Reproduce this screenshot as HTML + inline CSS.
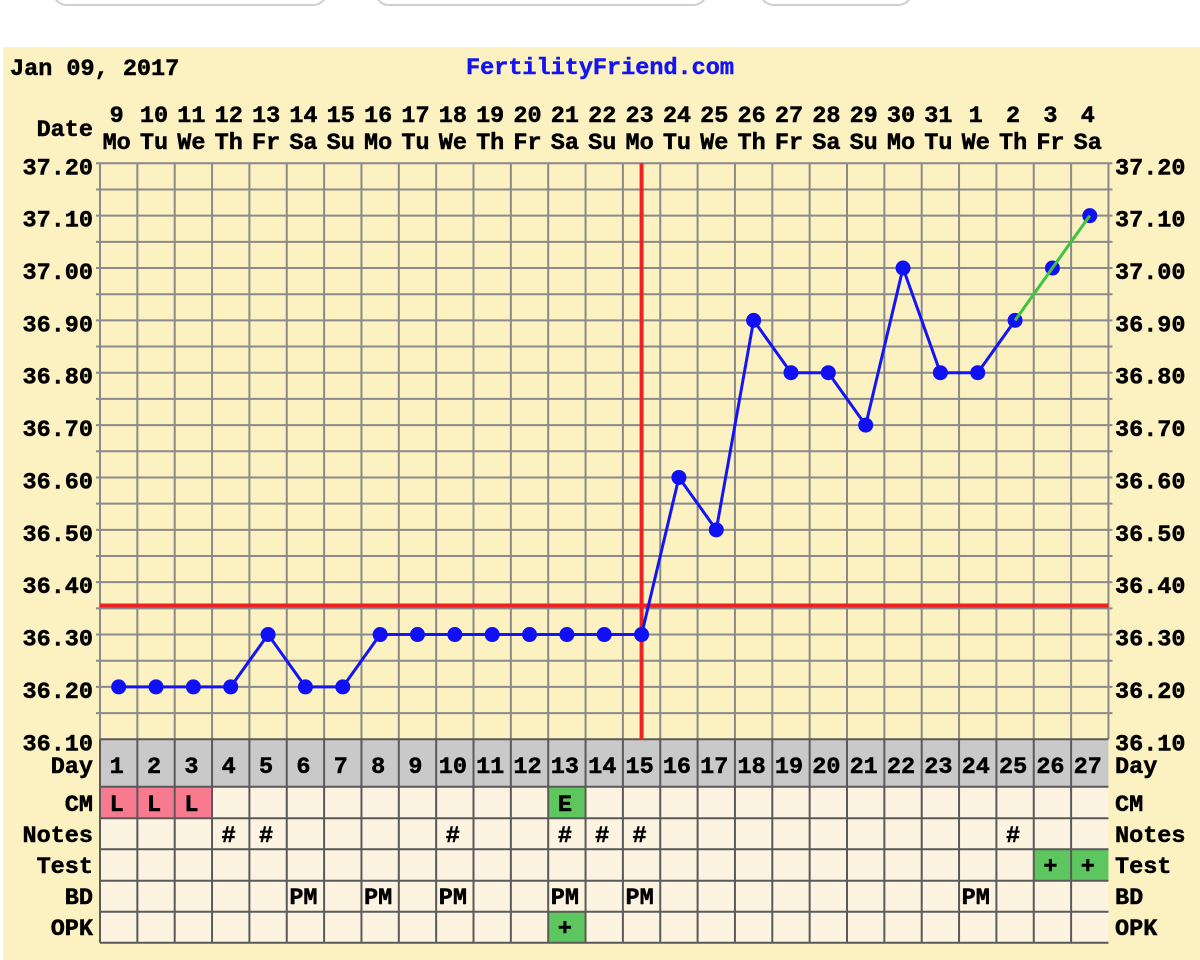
<!DOCTYPE html>
<html><head><meta charset="utf-8"><style>
html,body{margin:0;padding:0;background:#fff;}
svg{display:block;}
text{font-family:"Liberation Mono",monospace;font-weight:bold;font-size:23.5px;fill:#000;stroke:#000;stroke-width:0.5px;}
</style></head><body>
<svg width="1200" height="960" viewBox="0 0 1200 960" xmlns="http://www.w3.org/2000/svg">
<rect x="0" y="0" width="1200" height="960" fill="#fff"/>
<rect x="53" y="-40" width="274" height="45" rx="14" fill="#fff" stroke="#cfcfcf" stroke-width="2"/>
<rect x="375" y="-40" width="332" height="45" rx="14" fill="#fff" stroke="#cfcfcf" stroke-width="2"/>
<rect x="760" y="-40" width="152" height="45" rx="14" fill="#fff" stroke="#cfcfcf" stroke-width="2"/>
<rect x="3" y="47" width="1197" height="913" fill="#FCF1C0"/>

<text x="10" y="75">Jan 09, 2017</text>
<text x="600" y="74" text-anchor="middle" style="fill:#1414F0;stroke:#1414F0">FertilityFriend.com</text>

<!-- table backgrounds -->
<rect x="100" y="739.26" width="1008.45" height="47.44" fill="#C9C9C9"/>
<rect x="100" y="786.7" width="1008.45" height="156" fill="#FDF3E1"/>
<rect x="100" y="786.7" width="112.05" height="31.6" fill="#F77A8E"/>
<rect x="548.2" y="786.7" width="37.35" height="31.6" fill="#5EC65E"/>
<rect x="1033.75" y="849.3" width="74.7" height="31.4" fill="#5EC65E"/>
<rect x="548.2" y="911.7" width="37.35" height="31" fill="#5EC65E"/>

<!-- grid -->
<path fill="none" stroke="#8a8a8a" stroke-width="2" d="M100,163.3 v576 m37.35,-576 v576 m37.35,-576 v576 m37.35,-576 v576 m37.35,-576 v576 m37.35,-576 v576 m37.35,-576 v576 m37.35,-576 v576 m37.35,-576 v576 m37.35,-576 v576 m37.35,-576 v576 m37.35,-576 v576 m37.35,-576 v576 m37.35,-576 v576 m37.35,-576 v576 m37.35,-576 v576 m37.35,-576 v576 m37.35,-576 v576 m37.35,-576 v576 m37.35,-576 v576 m37.35,-576 v576 m37.35,-576 v576 m37.35,-576 v576 m37.35,-576 v576 m37.35,-576 v576 m37.35,-576 v576 m37.35,-576 v576 m37.35,-576 v576"/>
<path fill="none" stroke="#8a8a8a" stroke-width="2" d="M96,163.3 h1016.45 m-1016.45,26.18 h1016.45 m-1016.45,26.18 h1016.45 m-1016.45,26.18 h1016.45 m-1016.45,26.18 h1016.45 m-1016.45,26.18 h1016.45 m-1016.45,26.18 h1016.45 m-1016.45,26.18 h1016.45 m-1016.45,26.18 h1016.45 m-1016.45,26.18 h1016.45 m-1016.45,26.18 h1016.45 m-1016.45,26.18 h1016.45 m-1016.45,26.18 h1016.45 m-1016.45,26.18 h1016.45 m-1016.45,26.18 h1016.45 m-1016.45,26.18 h1016.45 m-1016.45,26.18 h1016.45 m-1016.45,26.18 h1016.45 m-1016.45,26.18 h1016.45 m-1016.45,26.18 h1016.45 m-1016.45,26.18 h1016.45 m-1016.45,26.18 h1016.45"/>

<!-- table lines -->
<path fill="none" stroke="#5a5a5a" stroke-width="2" d="M100,739.26 v203.44 m37.35,-203.44 v203.44 m37.35,-203.44 v203.44 m37.35,-203.44 v203.44 m37.35,-203.44 v203.44 m37.35,-203.44 v203.44 m37.35,-203.44 v203.44 m37.35,-203.44 v203.44 m37.35,-203.44 v203.44 m37.35,-203.44 v203.44 m37.35,-203.44 v203.44 m37.35,-203.44 v203.44 m37.35,-203.44 v203.44 m37.35,-203.44 v203.44 m37.35,-203.44 v203.44 m37.35,-203.44 v203.44 m37.35,-203.44 v203.44 m37.35,-203.44 v203.44 m37.35,-203.44 v203.44 m37.35,-203.44 v203.44 m37.35,-203.44 v203.44 m37.35,-203.44 v203.44 m37.35,-203.44 v203.44 m37.35,-203.44 v203.44 m37.35,-203.44 v203.44 m37.35,-203.44 v203.44 m37.35,-203.44 v203.44"/>
<path fill="none" stroke="#5a5a5a" stroke-width="2" d="M100,739.26 h1008.45 M100,786.7 h1008.45 M100,818.3 h1008.45 M100,849.3 h1008.45 M100,880.7 h1008.45 M100,911.7 h1008.45 M100,942.7 h1008.45"/>

<!-- red lines -->
<line x1="100" y1="605.5" x2="1108.45" y2="605.5" stroke="#EE2222" stroke-width="4"/>
<line x1="641.58" y1="163.3" x2="641.58" y2="739.26" stroke="#EE2222" stroke-width="4"/>

<!-- data -->
<polyline fill="none" stroke="#1414F5" stroke-width="3" stroke-linejoin="round" points="118.68,686.9 156.03,686.9 193.38,686.9 230.73,686.9 268.08,634.54 305.43,686.9 342.78,686.9 380.13,634.54 417.48,634.54 454.83,634.54 492.18,634.54 529.53,634.54 566.88,634.54 604.23,634.54 641.58,634.54 678.93,477.46 716.28,529.82 753.63,320.38 790.98,372.74 828.33,372.74 865.68,425.1 903.03,268.02 940.38,372.74 977.73,372.74 1015.08,320.38"/>
<g fill="#1010F5">
<circle cx="118.68" cy="686.9" r="7.5"/><circle cx="156.03" cy="686.9" r="7.5"/><circle cx="193.38" cy="686.9" r="7.5"/><circle cx="230.73" cy="686.9" r="7.5"/><circle cx="268.08" cy="634.54" r="7.5"/><circle cx="305.43" cy="686.9" r="7.5"/><circle cx="342.78" cy="686.9" r="7.5"/><circle cx="380.13" cy="634.54" r="7.5"/><circle cx="417.48" cy="634.54" r="7.5"/><circle cx="454.83" cy="634.54" r="7.5"/><circle cx="492.18" cy="634.54" r="7.5"/><circle cx="529.53" cy="634.54" r="7.5"/><circle cx="566.88" cy="634.54" r="7.5"/><circle cx="604.23" cy="634.54" r="7.5"/><circle cx="641.58" cy="634.54" r="7.5"/><circle cx="678.93" cy="477.46" r="7.5"/><circle cx="716.28" cy="529.82" r="7.5"/><circle cx="753.63" cy="320.38" r="7.5"/><circle cx="790.98" cy="372.74" r="7.5"/><circle cx="828.33" cy="372.74" r="7.5"/><circle cx="865.68" cy="425.1" r="7.5"/><circle cx="903.03" cy="268.02" r="7.5"/><circle cx="940.38" cy="372.74" r="7.5"/><circle cx="977.73" cy="372.74" r="7.5"/><circle cx="1015.08" cy="320.38" r="7.5"/><circle cx="1052.43" cy="268.02" r="7.5"/><circle cx="1089.78" cy="215.66" r="7.5"/>
</g>
<polyline fill="none" stroke="#3EC43E" stroke-width="3" points="1015.08,320.38 1052.43,268.02 1089.78,215.66"/>

<!-- left labels -->
<g text-anchor="end">
<text x="93" y="136">Date</text>
<text x="93" y="174.3">37.20</text>
<text x="93" y="226.7">37.10</text>
<text x="93" y="279">37.00</text>
<text x="93" y="331.4">36.90</text>
<text x="93" y="383.7">36.80</text>
<text x="93" y="436.1">36.70</text>
<text x="93" y="488.5">36.60</text>
<text x="93" y="540.8">36.50</text>
<text x="93" y="593.2">36.40</text>
<text x="93" y="645.5">36.30</text>
<text x="93" y="697.9">36.20</text>
<text x="93" y="750.3">36.10</text>
<text x="93" y="773">Day</text>
<text x="93" y="811">CM</text>
<text x="93" y="842">Notes</text>
<text x="93" y="873">Test</text>
<text x="93" y="904">BD</text>
<text x="93" y="935">OPK</text>
</g>
<!-- right labels -->
<g>
<text x="1115" y="174.3">37.20</text>
<text x="1115" y="226.7">37.10</text>
<text x="1115" y="279">37.00</text>
<text x="1115" y="331.4">36.90</text>
<text x="1115" y="383.7">36.80</text>
<text x="1115" y="436.1">36.70</text>
<text x="1115" y="488.5">36.60</text>
<text x="1115" y="540.8">36.50</text>
<text x="1115" y="593.2">36.40</text>
<text x="1115" y="645.5">36.30</text>
<text x="1115" y="697.9">36.20</text>
<text x="1115" y="750.3">36.10</text>
<text x="1115" y="773">Day</text>
<text x="1115" y="811">CM</text>
<text x="1115" y="842">Notes</text>
<text x="1115" y="873">Test</text>
<text x="1115" y="904">BD</text>
<text x="1115" y="935">OPK</text>
</g>

<!-- column headers -->
<g text-anchor="middle" transform="translate(-2,0)">
<text x="118.68" y="122">9</text><text x="156.03" y="122">10</text><text x="193.38" y="122">11</text><text x="230.73" y="122">12</text><text x="268.08" y="122">13</text><text x="305.43" y="122">14</text><text x="342.78" y="122">15</text><text x="380.13" y="122">16</text><text x="417.48" y="122">17</text><text x="454.83" y="122">18</text><text x="492.18" y="122">19</text><text x="529.53" y="122">20</text><text x="566.88" y="122">21</text><text x="604.23" y="122">22</text><text x="641.58" y="122">23</text><text x="678.93" y="122">24</text><text x="716.28" y="122">25</text><text x="753.63" y="122">26</text><text x="790.98" y="122">27</text><text x="828.33" y="122">28</text><text x="865.68" y="122">29</text><text x="903.03" y="122">30</text><text x="940.38" y="122">31</text><text x="977.73" y="122">1</text><text x="1015.08" y="122">2</text><text x="1052.43" y="122">3</text><text x="1089.78" y="122">4</text>
<text x="118.68" y="149">Mo</text><text x="156.03" y="149">Tu</text><text x="193.38" y="149">We</text><text x="230.73" y="149">Th</text><text x="268.08" y="149">Fr</text><text x="305.43" y="149">Sa</text><text x="342.78" y="149">Su</text><text x="380.13" y="149">Mo</text><text x="417.48" y="149">Tu</text><text x="454.83" y="149">We</text><text x="492.18" y="149">Th</text><text x="529.53" y="149">Fr</text><text x="566.88" y="149">Sa</text><text x="604.23" y="149">Su</text><text x="641.58" y="149">Mo</text><text x="678.93" y="149">Tu</text><text x="716.28" y="149">We</text><text x="753.63" y="149">Th</text><text x="790.98" y="149">Fr</text><text x="828.33" y="149">Sa</text><text x="865.68" y="149">Su</text><text x="903.03" y="149">Mo</text><text x="940.38" y="149">Tu</text><text x="977.73" y="149">We</text><text x="1015.08" y="149">Th</text><text x="1052.43" y="149">Fr</text><text x="1089.78" y="149">Sa</text>

<!-- day numbers -->
<text x="118.68" y="773">1</text><text x="156.03" y="773">2</text><text x="193.38" y="773">3</text><text x="230.73" y="773">4</text><text x="268.08" y="773">5</text><text x="305.43" y="773">6</text><text x="342.78" y="773">7</text><text x="380.13" y="773">8</text><text x="417.48" y="773">9</text><text x="454.83" y="773">10</text><text x="492.18" y="773">11</text><text x="529.53" y="773">12</text><text x="566.88" y="773">13</text><text x="604.23" y="773">14</text><text x="641.58" y="773">15</text><text x="678.93" y="773">16</text><text x="716.28" y="773">17</text><text x="753.63" y="773">18</text><text x="790.98" y="773">19</text><text x="828.33" y="773">20</text><text x="865.68" y="773">21</text><text x="903.03" y="773">22</text><text x="940.38" y="773">23</text><text x="977.73" y="773">24</text><text x="1015.08" y="773">25</text><text x="1052.43" y="773">26</text><text x="1089.78" y="773">27</text>

<!-- CM -->
<text x="118.68" y="811">L</text><text x="156.03" y="811">L</text><text x="193.38" y="811">L</text><text x="566.88" y="811">E</text>
<!-- Notes -->
<text x="230.73" y="842">#</text><text x="268.08" y="842">#</text><text x="454.83" y="842">#</text><text x="566.88" y="842">#</text><text x="604.23" y="842">#</text><text x="641.58" y="842">#</text><text x="1015.08" y="842">#</text>
<!-- Test -->
<text x="1052.43" y="873">+</text><text x="1089.78" y="873">+</text>
<!-- BD -->
<text x="305.43" y="904">PM</text><text x="380.13" y="904">PM</text><text x="454.83" y="904">PM</text><text x="566.88" y="904">PM</text><text x="641.58" y="904">PM</text><text x="977.73" y="904">PM</text>
<!-- OPK -->
<text x="566.88" y="935">+</text>
</g>
</svg>
</body></html>
